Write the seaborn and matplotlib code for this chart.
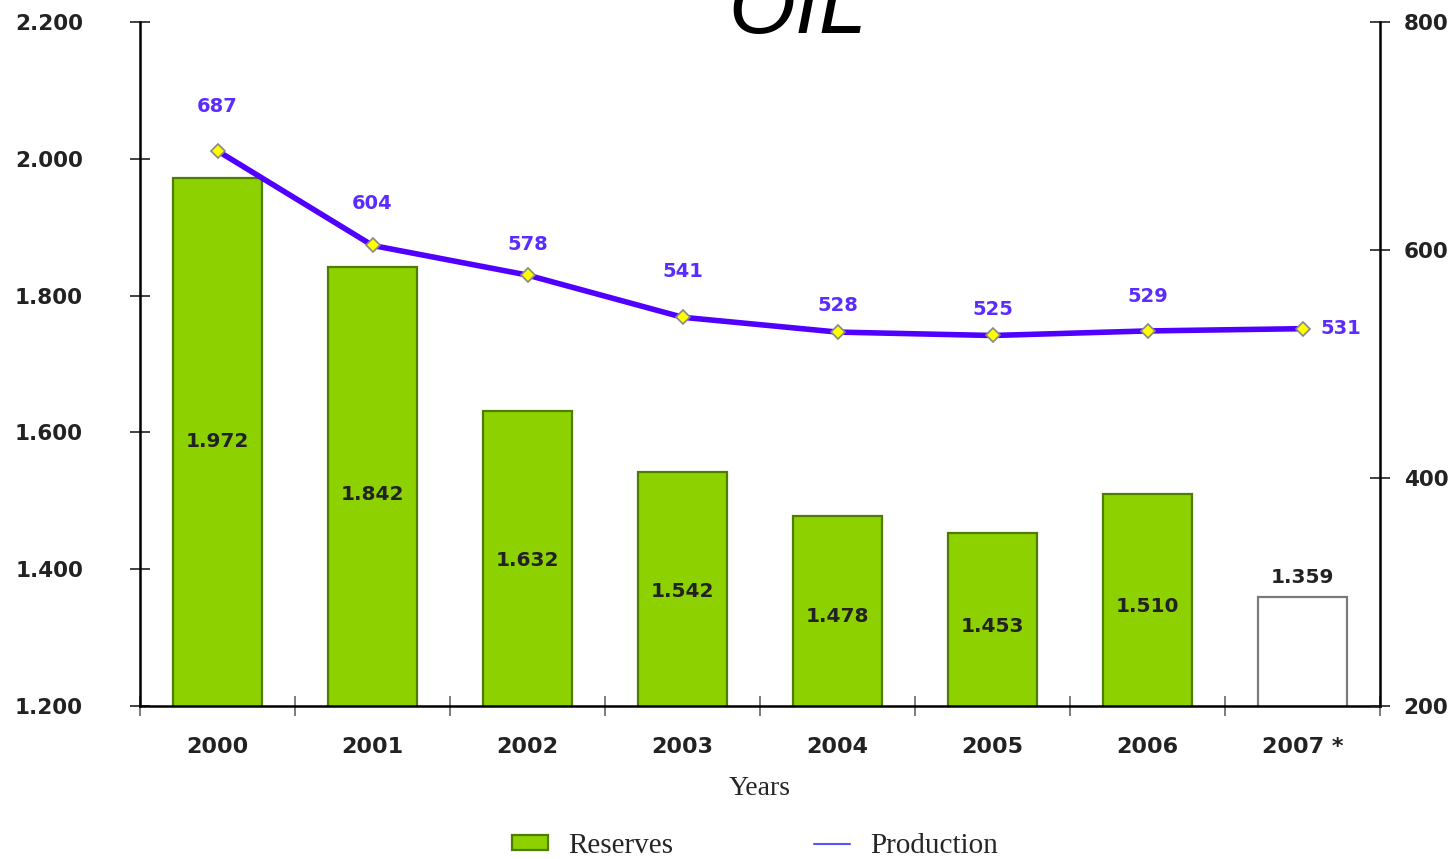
import matplotlib
matplotlib.use("Agg")
import numpy as np
import pandas as pd
import matplotlib.pyplot as plt
import seaborn as sns
from matplotlib.patches import Patch
from matplotlib.lines import Line2D
from matplotlib.ticker import FuncFormatter, FixedLocator

years = ["2000", "2001", "2002", "2003", "2004", "2005", "2006", "2007 *"]
reserves = [1972, 1842, 1632, 1542, 1478, 1453, 1510, 1359]
production = [687, 604, 578, 541, 528, 525, 529, 531]
reserve_labels = ["1.972", "1.842", "1.632", "1.542", "1.478", "1.453", "1.510", "1.359"]

GREEN = "#8ed100"
GREEN_EDGE = "#4f7d00"
LINE = "#5000ff"
LABEL = "#5a2cff"

# pixel nudges for the label placement
bar_label_nudge = [0, -8, -2, -2, -6, -7, -7, 10]
label_offsets = [(0, 44), (0, 42), (0, 31), (0, 46), (0, 27), (0, 26), (0, 34), (38, 0)]


def thousands(v, pos):
    return f"{int(v):,}".replace(",", ".")


def main():
    sns.set_style("white")
    plt.rcParams["font.family"] = ["DejaVu Sans"]

    df = pd.DataFrame({"year": years, "reserves": reserves})
    colors = [GREEN] * (len(years) - 1) + ["white"]

    fig = plt.figure(figsize=(14.56, 8.59), dpi=100)
    ax = fig.add_axes([140 / 1456, 1 - 706 / 859, 1240 / 1456, 684 / 859])

    sns.barplot(data=df, x="year", y="reserves", hue="year", palette=colors,
                legend=False, width=0.57, ax=ax, saturation=1)
    for i, bar in enumerate(ax.patches):
        if i == len(years) - 1:
            bar.set_edgecolor("#7a7a7a")
        else:
            bar.set_edgecolor(GREEN_EDGE)
        bar.set_linewidth(1.6)

    ax.set_ylim(1200, 2200)
    ax.set_xlim(-0.5, len(years) - 0.5)
    ax.yaxis.set_major_locator(FixedLocator([1200, 1400, 1600, 1800, 2000, 2200]))
    ax.yaxis.set_major_formatter(FuncFormatter(thousands))

    # bar value labels
    for i, (v, lab) in enumerate(zip(reserves, reserve_labels)):
        if i == len(years) - 1:
            ax.annotate(lab, (i, v), xytext=(0, bar_label_nudge[i]),
                        textcoords="offset pixels", ha="center", va="bottom",
                        fontsize=14.5, fontweight="bold", color="#222222")
        else:
            ax.annotate(lab, (i, (1200 + v) / 2), xytext=(0, bar_label_nudge[i]),
                        textcoords="offset pixels", ha="center", va="center",
                        fontsize=14.5, fontweight="bold", color="#222222")

    # x ticks at category boundaries, labels at centres
    ax.set_xticks(np.arange(len(years)))
    ax.set_xticklabels(years, fontsize=16, fontweight="bold", color="#222222")
    ax.tick_params(axis="x", length=0, pad=22)
    ax.set_xticks(np.arange(len(years) + 1) - 0.5, minor=True)
    ax.tick_params(axis="x", which="minor", bottom=True, direction="inout",
                   length=14, width=1.2, color="#666666")
    ax.set_xlabel("Years", family="Liberation Serif", fontsize=20, labelpad=14)
    ax.set_ylabel("")

    ax.tick_params(axis="y", left=True, direction="inout", length=14, width=1.2,
                   labelsize=15.5, pad=34, colors="#222222")
    for t in ax.get_yticklabels():
        t.set_fontweight("bold")

    for side in ["top", "right"]:
        ax.spines[side].set_visible(False)
    for side in ["left", "bottom"]:
        ax.spines[side].set_color("black")
        ax.spines[side].set_linewidth(1.8)

    # production line on the right axis
    ax2 = ax.twinx()
    ax2.set_ylim(200, 800)
    sns.lineplot(x=np.arange(len(years)), y=production, ax=ax2, color=LINE,
                 linewidth=4, marker="D", markersize=7, markerfacecolor="#ffff00",
                 markeredgecolor="#888888", markeredgewidth=1.2)
    for i, v in enumerate(production):
        dx, dy = label_offsets[i]
        ax2.annotate(str(v), (i, v), xytext=(dx, dy), textcoords="offset pixels",
                     ha="center", va="center", fontsize=14, fontweight="bold",
                     color=LABEL)
    ax2.yaxis.set_major_locator(FixedLocator([200, 400, 600, 800]))
    ax2.tick_params(axis="y", right=True, direction="inout", length=14, width=1.2,
                    labelsize=15.5, pad=10, colors="#222222")
    for t in ax2.get_yticklabels():
        t.set_fontweight("bold")
    for side in ["top", "left", "bottom"]:
        ax2.spines[side].set_visible(False)
    ax2.spines["right"].set_color("black")
    ax2.spines["right"].set_linewidth(1.8)
    ax2.set_xlim(-0.5, len(years) - 0.5)

    # title, partly cut off at the top
    fig.text(0.548, 1 - 33 / 859, "OIL", ha="center", va="baseline",
             fontsize=62, style="italic", family="Liberation Sans", color="black")

    handles = [
        Patch(facecolor=GREEN, edgecolor=GREEN_EDGE, linewidth=1.6),
        Line2D([0], [0], color="#5555ff", linewidth=1.5),
    ]
    fig.legend(handles, ["Reserves", "Production"], loc="center",
               bbox_to_anchor=(755 / 1456, 1 - 846 / 859), ncol=2, frameon=False,
               prop={"family": "Liberation Serif", "size": 21},
               handlelength=1.25, handleheight=0.45, columnspacing=4.8,
               handletextpad=0.7)

    fig.savefig("out.png", dpi=100)


if __name__ == "__main__":
    main()
